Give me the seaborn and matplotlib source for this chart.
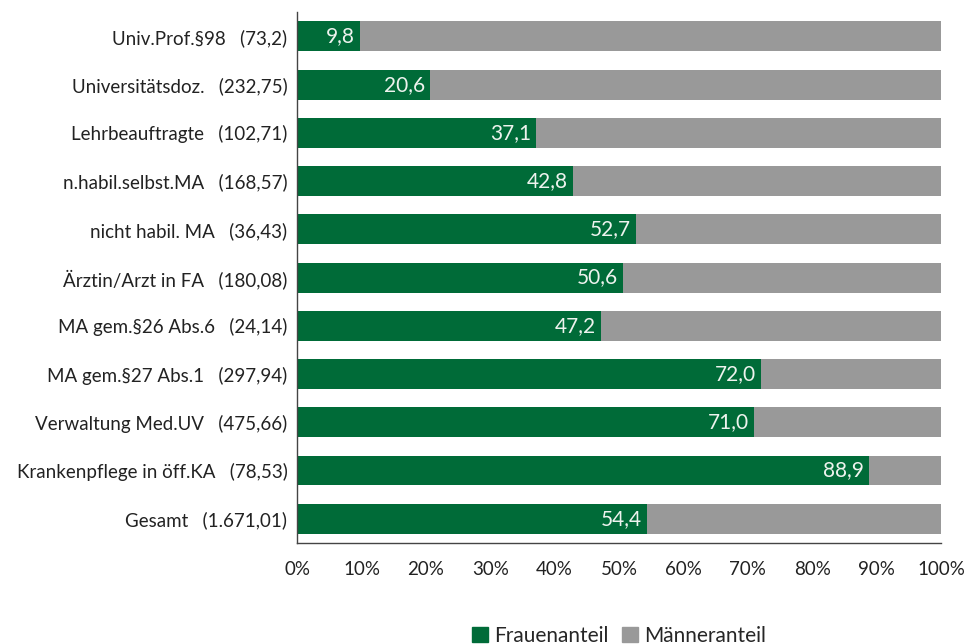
import numpy as np
import pandas as pd
import matplotlib
matplotlib.use("Agg")
import matplotlib.pyplot as plt
import seaborn as sns
from matplotlib.patches import Patch

kategorien = ["Univ.Prof.§98", "Universitätsdoz.", "Lehrbeauftragte", "n.habil.selbst.MA",
              "nicht habil. MA", "Ärztin/Arzt in FA", "MA gem.§26 Abs.6", "MA gem.§27 Abs.1",
              "Verwaltung Med.UV", "Krankenpflege in öff.KA", "Gesamt"]
personen = ["73,2", "232,75", "102,71", "168,57", "36,43", "180,08", "24,14", "297,94",
            "475,66", "78,53", "1.671,01"]
frauenanteil = [9.8, 20.6, 37.1, 42.8, 52.7, 50.6, 47.2, 72.0, 71.0, 88.9, 54.4]
gesamt = [100] * len(kategorien)

gruen = "#006B38"
grau = "#999999"

sns.set_style("white")
plt.rcParams["font.family"] = ["Lato", "DejaVu Sans"]

df = pd.DataFrame({"kategorie": kategorien, "frauen": frauenanteil, "gesamt": gesamt})

fig = plt.figure(figsize=(9.68, 6.44), dpi=100)
ax = fig.add_axes([0.307, 0.157, 0.665, 0.824])

sns.barplot(data=df, x="gesamt", y="kategorie", orient="h", color=grau,
            width=0.62, saturation=1, linewidth=0, ax=ax)
sns.barplot(data=df, x="frauen", y="kategorie", orient="h", color=gruen,
            width=0.62, saturation=1, linewidth=0, ax=ax)

for i, v in enumerate(frauenanteil):
    ax.text(v - 0.8, i, f"{v:.1f}".replace(".", ","), ha="right", va="center",
            color="#EEF3EE", fontsize=15)

ax.set_xlim(0, 100)
ax.set_ylim(len(kategorien) - 0.5, -0.5)
ax.set_xticks(np.arange(0, 101, 10))
ax.set_xticklabels([f"{t}%" for t in range(0, 101, 10)], fontsize=13.5, color="#222222")
ax.set_yticks(range(len(kategorien)))
ax.set_yticklabels([f"{k}   ({p})" for k, p in zip(kategorien, personen)],
                   fontsize=13.5, color="#222222")
ax.set_yticks(np.arange(-0.5, len(kategorien), 1), minor=True)
ax.tick_params(axis="y", which="major", length=0, pad=7)
ax.tick_params(axis="y", which="minor", length=5, color="#444444", direction="out")
ax.tick_params(axis="x", which="major", length=5, color="#444444", direction="out", pad=8)
ax.set_xlabel("")
ax.set_ylabel("")
for s in ["top", "right"]:
    ax.spines[s].set_visible(False)
for s in ["left", "bottom"]:
    ax.spines[s].set_color("#444444")
    ax.spines[s].set_linewidth(1)

handles = [Patch(color=gruen, label="Frauenanteil"), Patch(color=grau, label="Männeranteil")]
ax.legend(handles=handles, loc="center", bbox_to_anchor=(0.5, -0.175), ncol=2, frameon=False,
          fontsize=15, handlelength=0.8, handleheight=0.8, handletextpad=0.3, columnspacing=0.6)

fig.savefig("out.png", dpi=100)
